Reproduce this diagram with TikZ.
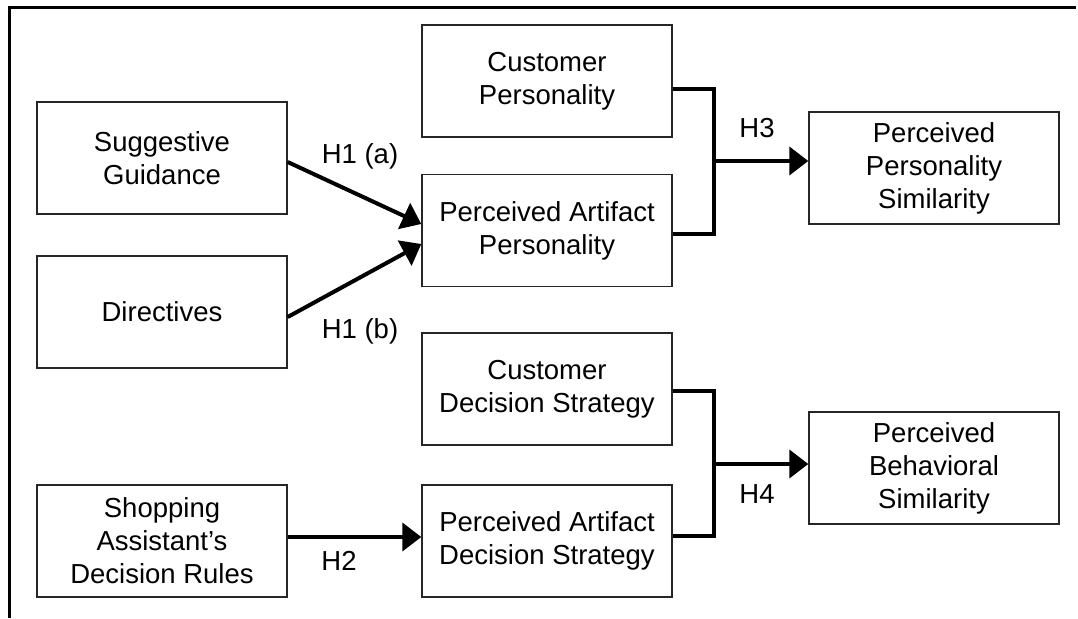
\documentclass[tikz,border=0pt]{standalone}
\usepackage{fontspec}
\setmainfont{Liberation Sans}
\usetikzlibrary{arrows.meta,calc}
\begin{document}
\begin{tikzpicture}[x=1pt,y=-1pt,
  box/.style={draw=black!85, line width=1.4pt, minimum width=250pt, minimum height=112pt,
    align=center, inner sep=0pt, font=\fontsize{27.5}{33}\selectfont},
  link/.style={line width=4pt},
  tip/.style={-{Triangle[length=19pt,width=28pt]}},
  hyp/.style={anchor=base, inner sep=0pt, font=\fontsize{27.5}{33}\selectfont}]
\useasboundingbox (0,0) rectangle (1078,618);
% frame: top and left edges
\draw[line width=3pt] (9,618) -- (9,7.5) -- (1076,7.5);

% left column
\node[box] (sg)   at (162,158)   {Suggestive\\Guidance};
\node[box] (dir)  at (162,312)   {Directives};
\node[box] (sar)  at (162,541)   {Shopping\\Assistant’s\\Decision Rules};
% middle column
\node[box] (cp)   at (547,81)    {Customer\\Personality};
\node[box] (pap)  at (547,230.5) {Perceived Artifact\\Personality};
\node[box] (cds)  at (547,389)   {Customer\\Decision Strategy};
\node[box] (pads) at (547,541)   {Perceived Artifact\\Decision Strategy};
% right column
\node[box] (pps)  at (934,168)   {Perceived\\Personality\\Similarity};
\node[box] (pbs)  at (934,468)   {Perceived\\Behavioral\\Similarity};

% H1 and H2
\draw[link,tip] ($(sg.east)+(0,4)$) -- ($(pap.west)+(0,-6.5)$);
\draw[link,tip] ($(dir.east)+(0,5)$) -- ($(pap.west)+(0,13.5)$);
\draw[link,tip] ($(sar.east)+(0,-4)$) -- ($(pads.west)+(0,-4)$);

% H3 bracket
\coordinate (j3) at (714,161);
\draw[link] ($(cp.east)+(0,8)$) -| (j3) |- ($(pap.east)+(0,3.5)$);
\draw[link,tip] (j3) -- (pps.west |- j3);

% H4 bracket
\coordinate (j4) at (714,464);
\draw[link] ($(cds.east)+(0,2)$) -| (j4) |- ($(pads.east)+(0,-5)$);
\draw[link,tip] (j4) -- (pbs.west |- j4);

% hypothesis labels
\node[hyp] (h1a) at (360,163) {H1 (a)};
\node[hyp] (h1b) at (360,338) {H1 (b)};
\node[hyp] (h2)  at (339,570) {H2};
\node[hyp] (h3)  at (757,137) {H3};
\node[hyp] (h4)  at (757,503) {H4};
\end{tikzpicture}
\end{document}
